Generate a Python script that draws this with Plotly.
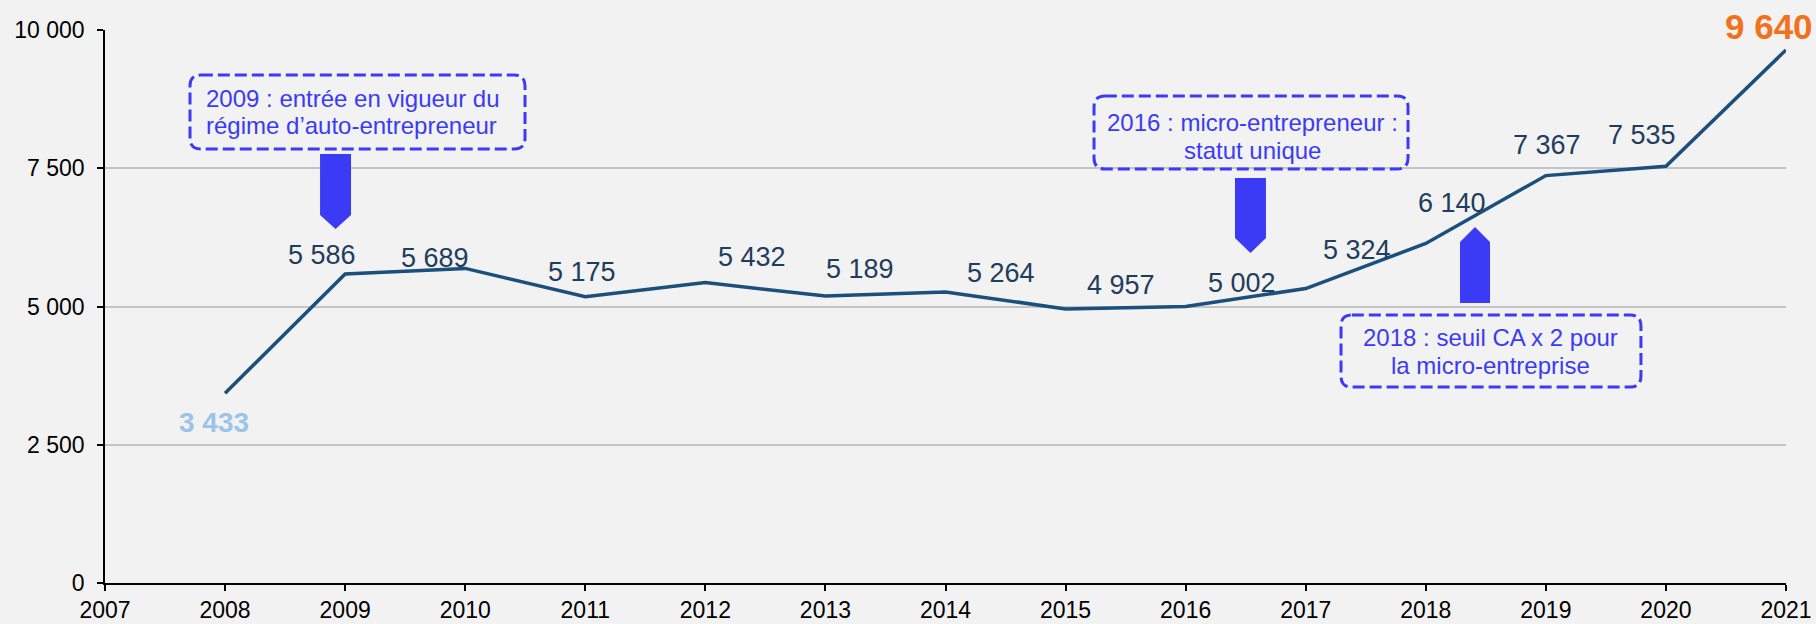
import plotly.graph_objects as go

# ---- data ----
years = [2008, 2009, 2010, 2011, 2012, 2013, 2014, 2015, 2016, 2017, 2018, 2019, 2020, 2021]
values = [3433, 5586, 5689, 5175, 5432, 5189, 5264, 4957, 5002, 5324, 6140, 7367, 7535, 9640]
x_ticks = [2007, 2008, 2009, 2010, 2011, 2012, 2013, 2014, 2015, 2016, 2017, 2018, 2019, 2020, 2021]
y_ticks = [0, 2500, 5000, 7500, 10000]

notes = [
    ["2009 : entrée en vigueur du", "régime d’auto-entrepreneur"],
    ["2016 : micro-entrepreneur :", "statut unique"],
    ["2018 : seuil CA x 2 pour", "la micro-entreprise"],
]

# ---- styles ----
label_dx = [-11, -23, -30, -3, 47, 35, 55, 55, 56, 51, 26, 1, -24, -17]
label_dy = [-29, 19, 10, 25, 26, 27, 19, 24, 23, 39, 40, 31, 31, 23]
BG = "#f2f2f2"
LINE = "#1b4f7c"
LABEL = "#1f3d5c"
BLUE = "#3b3bf5"
FONT = "Arial, Liberation Sans, sans-serif"


def fmt(v):
    return f"{v:,}".replace(",", " ")


fig = go.Figure()
fig.add_trace(go.Scatter(x=years, y=values, mode="lines",
                         line=dict(color=LINE, width=3.5), hoverinfo="skip"))

annotations = []
for i, (x, v) in enumerate(zip(years, values)):
    if i == 0:
        font = dict(family=FONT, size=28, color="#9cc3ea", weight="bold")
    elif i == len(years) - 1:
        font = dict(family=FONT, size=35, color="#f2711c", weight="bold")
    else:
        font = dict(family=FONT, size=27, color=LABEL)
    annotations.append(dict(x=x, y=v, text=fmt(v), showarrow=False,
                            xanchor="center", yanchor="middle",
                            xshift=label_dx[i], yshift=label_dy[i], font=font))


def rrect(x0, x1, y0, y1, rx=0.09, ry=200):
    return (f"M {x0+rx},{y1} L {x1-rx},{y1} Q {x1},{y1} {x1},{y1-ry} "
            f"L {x1},{y0+ry} Q {x1},{y0} {x1-rx},{y0} L {x0+rx},{y0} "
            f"Q {x0},{y0} {x0},{y0+ry} L {x0},{y1-ry} Q {x0},{y1} {x0+rx},{y1} Z")


boxes = [
    (2007.708, 2010.498, 7848, 9186),
    (2015.237, 2017.852, 7486, 8807),
    (2017.294, 2019.792, 3544, 4846),
]
shapes = []
for b in boxes:
    shapes.append(dict(type="path", path=rrect(*b), xref="x", yref="y",
                       line=dict(color=BLUE, width=3, dash="12px,5px"),
                       fillcolor="rgba(0,0,0,0)", layer="above"))


def arrow(xl, xr, ybase, yshoulder, ytip):
    xc = (xl + xr) / 2
    return f"M {xl},{ybase} L {xr},{ybase} L {xr},{yshoulder} L {xc},{ytip} L {xl},{yshoulder} Z"


arrow_paths = [
    arrow(2008.791, 2009.049, 7758, 6655, 6401),
    arrow(2016.411, 2016.669, 7324, 6239, 5967),
    arrow(2018.285, 2018.535, 5063, 6166, 6438),
]
for p in arrow_paths:
    shapes.append(dict(type="path", path=p, xref="x", yref="y",
                       fillcolor=BLUE, line=dict(width=0), layer="above"))

note_pos = [
    dict(x=2007.825, ys=[8770, 8282], xanchor="left"),
    dict(x=2016.553, ys=[8336, 7830], xanchor="center"),
    dict(x=2018.535, ys=[4448, 3942], xanchor="center"),
]
for lines, pos in zip(notes, note_pos):
    for line, yv in zip(lines, pos["ys"]):
        annotations.append(dict(text=line, x=pos["x"], y=yv, showarrow=False,
                                xanchor=pos["xanchor"], yanchor="middle",
                                font=dict(family=FONT, size=24, color=BLUE)))

fig.update_layout(
    width=1816, height=624,
    margin=dict(l=105, r=30, t=30, b=41, autoexpand=False),
    paper_bgcolor=BG, plot_bgcolor=BG,
    showlegend=False,
    annotations=annotations,
    shapes=shapes,
    xaxis=dict(range=[2007, 2021], tickvals=x_ticks, ticktext=[str(t) for t in x_ticks],
               showgrid=False, zeroline=False, showline=True, linecolor="#000000", linewidth=1.5,
               ticks="outside", ticklen=6, tickwidth=1.5, tickcolor="#000000",
               automargin=False,
               tickfont=dict(family=FONT, size=23, color="#000000")),
    yaxis=dict(range=[0, 10000], tickvals=y_ticks, ticktext=[fmt(t) for t in y_ticks],
               showgrid=True, gridcolor="#c4c4c4", gridwidth=1.5, zeroline=False,
               showline=True, linecolor="#000000", linewidth=1.5,
               ticks="outside", ticklen=6, tickwidth=1.5, tickcolor="#000000",
               ticklabelstandoff=8, automargin=False,
               tickfont=dict(family=FONT, size=23, color="#000000")),
)

fig.write_html("out.html", config={"displayModeBar": False},
               post_script="document.body.style.margin='0';document.body.style.overflow='hidden';")
